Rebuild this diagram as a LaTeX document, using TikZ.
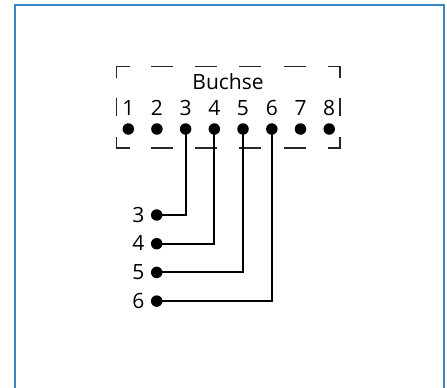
\documentclass[tikz,border=0pt]{standalone}
\usepackage{fontspec}
\setmainfont{Open Sans}
\definecolor{frameblue}{RGB}{59,134,199}
\tikzset{
  pin/.style={circle,fill=black,inner sep=0pt,minimum size=11.5pt},
  lbl/.style={inner sep=0pt,anchor=base,font=\fontsize{21}{23}\selectfont},
  wire/.style={line width=2pt},
  dbox/.style={line width=1.2pt,color=black!85},
  frame/.style={line width=2.4pt,color=frameblue}
}
\begin{document}
\begin{tikzpicture}[x=1pt,y=-1pt]
\useasboundingbox (0,0) rectangle (447,388);
% outer frame
\draw[frame] (15,392) -- (15,5) -- (443.7,5) -- (443.7,392);
% dashed box
\draw[dbox] (129.7,66.7) -- (116.7,66.7) -- (116.7,78);
\draw[dbox] (116.7,98) -- (116.7,116);
\draw[dbox] (116.7,137) -- (116.7,148) -- (130,148);
\draw[dbox] (328,66.7) -- (340,66.7) -- (340,78);
\draw[dbox] (340,98) -- (340,116);
\draw[dbox] (340,137) -- (340,148) -- (328,148);
\foreach \a/\b in {151/173,195/217,239/261,284/306}{
  \draw[dbox] (\a,66.7) -- (\b,66.7);
  \draw[dbox] (\a,148) -- (\b,148);
}
\node[lbl] (buchse) at (228,89) {Buchse};
% pins
\foreach \i/\x in {1/128.3,2/156.9,3/185.6,4/214.3,5/243,6/271.8,7/300.5,8/329.2}{
  \node[pin] (p\i) at (\x,129) {};
  \node[lbl] (l\i) at (\x,115.7) {\i};
}
% left pins
\foreach \i/\y in {3/215,4/243.7,5/272.4,6/301.1}{
  \node[pin] (q\i) at (156.7,\y) {};
  \node[lbl] (m\i) at (138.5,\y+7) {\i};
}
\foreach \i in {3,4,5,6}{
  \draw[wire] (p\i.center) |- (q\i.center);
}
\end{tikzpicture}
\end{document}
